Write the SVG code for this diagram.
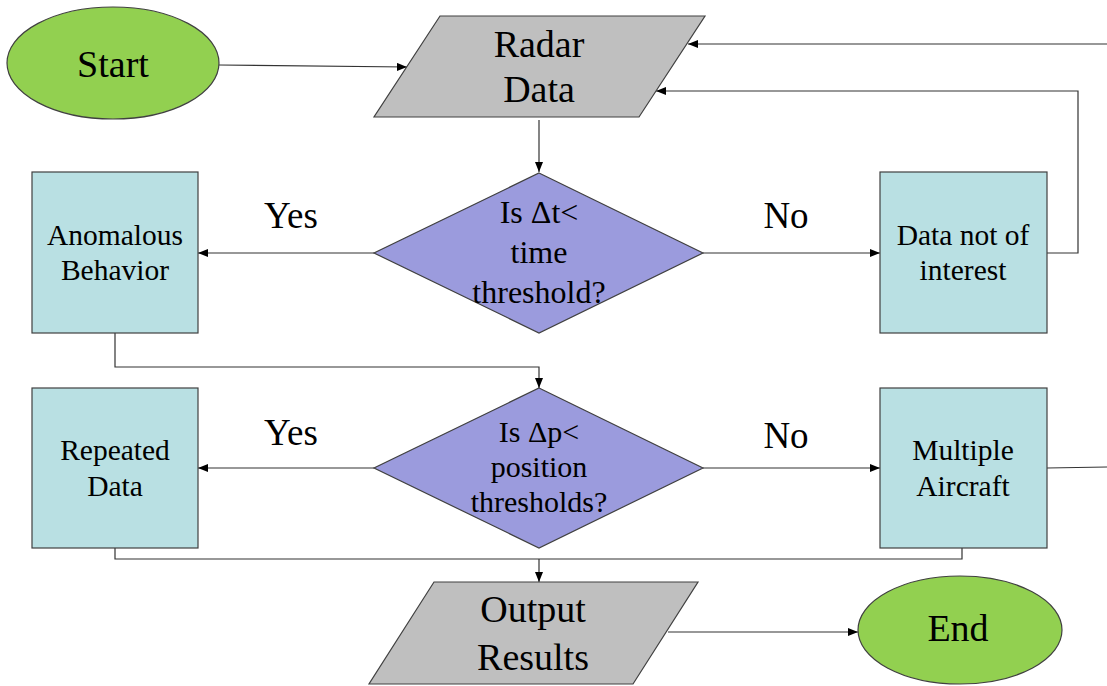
<svg xmlns="http://www.w3.org/2000/svg" width="1107" height="686" viewBox="0 0 1107 686">
<style>
.term{fill:#92D050;stroke:#404040;stroke-width:1.2}
.io{fill:#BFBFBF;stroke:#404040;stroke-width:1.2}
.dec{fill:#9B9BDD;stroke:#404040;stroke-width:1.2}
.proc{fill:#B9E0E3;stroke:#404040;stroke-width:1.2}
.c{fill:none;stroke:#333333;stroke-width:1.2}
.tx{font-family:'Liberation Serif','Times New Roman','DejaVu Serif',serif;fill:#000000;text-anchor:middle}
.big{font-size:38px}
.lbl{font-size:37px}
.d1{font-size:32px}
.d2{font-size:30px}
.bx{font-size:29.5px}
</style>
<defs>
<marker id="ah" markerWidth="10" markerHeight="8" refX="10" refY="4" orient="auto" markerUnits="userSpaceOnUse">
<path d="M0,0 L10,4 L0,8 Z" fill="#000000"/>
</marker>
</defs>
<rect width="1107" height="686" fill="#ffffff"/>
<g id="connectors">
<path class="c" d="M219,65 L407,67" marker-end="url(#ah)"/>
<path class="c" d="M539,120 L539,172" marker-end="url(#ah)"/>
<path class="c" d="M374,253 L198,253" marker-end="url(#ah)"/>
<path class="c" d="M703,253 L880,253" marker-end="url(#ah)"/>
<path class="c" d="M1047,253 L1078,253 L1078,91 L656,91" marker-end="url(#ah)"/>
<path class="c" d="M1107,44 L688,44" marker-end="url(#ah)"/>
<path class="c" d="M115,333 L115,367 L539,367 L539,388" marker-end="url(#ah)"/>
<path class="c" d="M374,468 L198,468" marker-end="url(#ah)"/>
<path class="c" d="M703,468 L880,468" marker-end="url(#ah)"/>
<path class="c" d="M1047,468 L1107,467"/>
<path class="c" d="M115,548 L115,559 L962,559 L962,548"/>
<path class="c" d="M539,559 L539,582" marker-end="url(#ah)"/>
<path class="c" d="M668,632 L858,632" marker-end="url(#ah)"/>
</g>
<g id="start">
<ellipse class="term" cx="113" cy="63" rx="106" ry="56"/>
<text class="tx big" x="113" y="77">Start</text>
</g>
<g id="radar-data">
<polygon class="io" points="440,16 705,16 639,117 374,117"/>
<text class="tx big" x="539" y="57">Radar</text>
<text class="tx big" x="539" y="102">Data</text>
</g>
<g id="decision-time">
<polygon class="dec" points="539,173 703,253 539,333 374,253"/>
<text class="tx d1" x="539" y="223">Is Δt&lt;</text>
<text class="tx d1" x="539" y="263">time</text>
<text class="tx d1" x="539" y="303">threshold?</text>
</g>
<g id="anomalous">
<rect class="proc" x="32" y="172" width="166" height="161"/>
<text class="tx bx" x="115" y="245">Anomalous</text>
<text class="tx bx" x="115" y="280">Behavior</text>
</g>
<g id="not-interest">
<rect class="proc" x="880" y="172" width="167" height="161"/>
<text class="tx bx" x="963" y="245">Data not of</text>
<text class="tx bx" x="963" y="280">interest</text>
</g>
<g id="decision-position">
<polygon class="dec" points="539,388 703,468 539,548 374,468"/>
<text class="tx d2" x="539" y="442">Is Δp&lt;</text>
<text class="tx d2" x="539" y="477">position</text>
<text class="tx d2" x="539" y="512">thresholds?</text>
</g>
<g id="repeated">
<rect class="proc" x="32" y="388" width="166" height="160"/>
<text class="tx bx" x="115" y="460">Repeated</text>
<text class="tx bx" x="115" y="496">Data</text>
</g>
<g id="multiple">
<rect class="proc" x="880" y="388" width="167" height="160"/>
<text class="tx bx" x="963" y="460">Multiple</text>
<text class="tx bx" x="963" y="496">Aircraft</text>
</g>
<g id="output">
<polygon class="io" points="434,582 698,582 633,684 369,684"/>
<text class="tx big" x="533" y="622">Output</text>
<text class="tx big" x="533" y="670">Results</text>
</g>
<g id="end">
<ellipse class="term" cx="960" cy="630" rx="102" ry="54"/>
<text class="tx big" x="958" y="641">End</text>
</g>
<g id="labels">
<text class="tx lbl" x="291" y="228">Yes</text>
<text class="tx lbl" x="786" y="228">No</text>
<text class="tx lbl" x="291" y="445">Yes</text>
<text class="tx lbl" x="786" y="448">No</text>
</g>
</svg>
